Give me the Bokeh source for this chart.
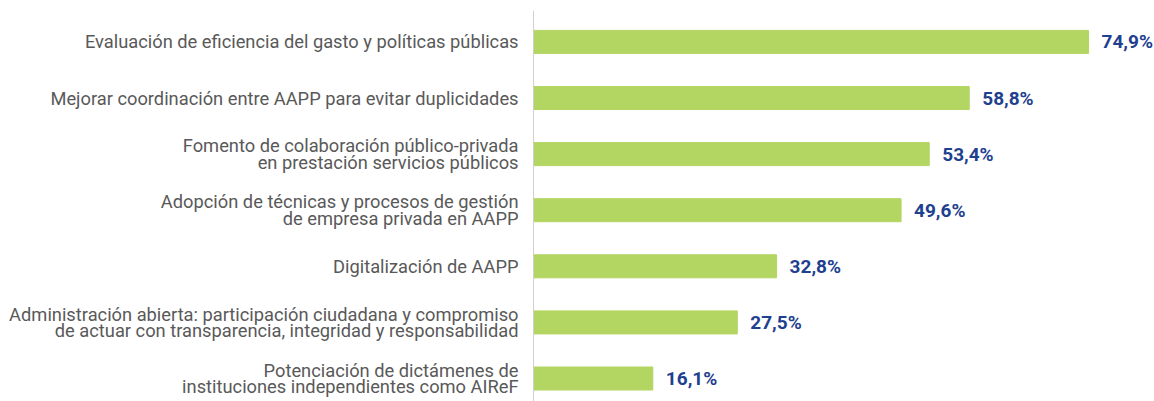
from bokeh.plotting import figure
from bokeh.models import Range1d, Span, ColumnDataSource
from bokeh.core.properties import value
from bokeh.embed import file_html
from bokeh.resources import INLINE

categories = [
    "Evaluación de eficiencia del gasto y políticas públicas",
    "Mejorar coordinación entre AAPP para evitar duplicidades",
    "Fomento de colaboración público-privada\nen prestación servicios públicos",
    "Adopción de técnicas y procesos de gestión\nde empresa privada en AAPP",
    "Digitalización de AAPP",
    "Administración abierta: participación ciudadana y compromiso\nde actuar con transparencia, integridad y responsabilidad",
    "Potenciación de dictámenes de\ninstituciones independientes como AIReF",
]
values = [74.9, 58.8, 53.4, 49.6, 32.8, 27.5, 16.1]
value_labels = ["74,9%", "58,8%", "53,4%", "49,6%", "32,8%", "27,5%", "16,1%"]

n = len(categories)
ypos = [n - 1 - i for i in range(n)]
src = ColumnDataSource(dict(y=ypos, v=values, cat=categories, lab=value_labels,
                            zero=[0] * n))

p = figure(width=1154, height=401, output_backend="svg", toolbar_location=None,
           x_range=Range1d(-71.93, 83.8), y_range=Range1d(-0.41, 6.56),
           min_border_left=0, min_border_right=0, min_border_top=10, min_border_bottom=0)
p.axis.visible = False
p.grid.visible = False
p.outline_line_color = None
p.background_fill_color = "white"
p.border_fill_color = "white"

p.hbar(y="y", right="v", left=0, height=0.41, color="#b3d562", source=src)
p.add_layout(Span(location=0, dimension="height", line_color="#d0d0d0", line_width=1))

p.text(x="zero", y="y", text="cat", source=src, x_offset=-15,
       text_align="right", text_baseline="middle", text_font=value("Roboto"),
       text_font_size="18.3px", text_color="#595959", text_line_height=0.8)
p.text(x="v", y="y", text="lab", source=src, x_offset=13,
       text_align="left", text_baseline="middle", text_font=value("Roboto"),
       text_font_size="19px", text_font_style="bold", text_color="#1f3f8f")

open("out.html", "w").write(file_html(p, INLINE))
